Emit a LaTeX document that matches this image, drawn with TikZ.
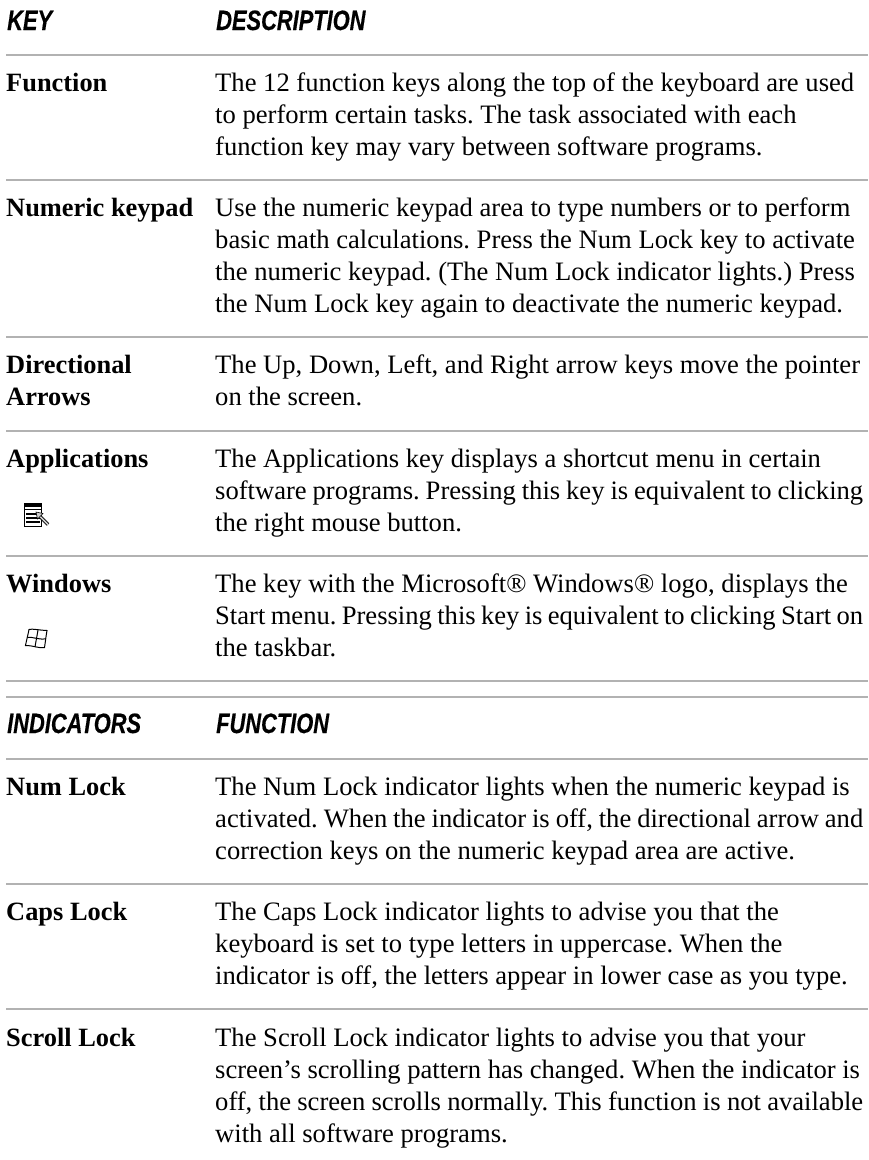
\documentclass[tikz,border=0pt]{standalone}
\usepackage{fontspec}
\setmainfont{Liberation Serif}
\newfontfamily\headfont[FakeStretch=0.78,FakeBold=0.4]{Liberation Sans}
\newcommand\fitline[1]{\makebox[648pt][s]{\spaceskip=0.25em plus 0.1em minus 0.12em\relax #1}}
\begin{document}
\frenchspacing
\begin{tikzpicture}[x=1pt,y=-1pt,
 rulestyle/.style={draw=black!30,line width=2pt},
 keylabel/.style={anchor=base west,inner sep=0pt,font=\fontsize{26.4}{31}\selectfont\bfseries},
 headlabel/.style={anchor=base west,inner sep=0pt,font=\fontsize{28}{32}\headfont\bfseries\itshape\selectfont},
 bodyline/.style={anchor=base west,inner sep=0pt,font=\fontsize{26.6}{31}\selectfont},
 iconline/.style={draw=black,line width=1pt}]
\useasboundingbox (0,0) rectangle (868,1160);
\fill[white] (0,0) rectangle (868,1160);
\foreach \y in {55,180,337,431,556,681,697,759,884,1009}
  \draw[rulestyle] (6,\y) -- (868,\y);
% header 1
\node[headlabel] (hkey) at (7,30) {KEY};
\node[headlabel] (hdesc) at (216,30) {DESCRIPTION};
% Function
\node[keylabel] (kfunc) at (6,91) {Function};
\node[bodyline] (f1) at (215,91) {The 12 function keys along the top of the keyboard are used};
\node[bodyline] (f2) at (215,123) {to perform certain tasks. The task associated with each};
\node[bodyline] (f3) at (215,155) {function key may vary between software programs.};
% Numeric
\node[keylabel] (knum) at (6,216) {Numeric keypad};
\node[bodyline] (n1) at (215,216) {Use the numeric keypad area to type numbers or to perform};
\node[bodyline] (n2) at (215,248) {basic math calculations. Press the Num Lock key to activate};
\node[bodyline] (n3) at (215,280) {the numeric keypad. (The Num Lock indicator lights.) Press};
\node[bodyline] (n4) at (215,312) {the Num Lock key again to deactivate the numeric keypad.};
% Directional
\node[keylabel] (kdir1) at (6,373) {Directional};
\node[keylabel] (kdir2) at (6,405) {Arrows};
\node[bodyline] (d1) at (215,373) {The Up, Down, Left, and Right arrow keys move the pointer};
\node[bodyline] (d2) at (215,405) {on the screen.};
% Applications
\node[keylabel] (kapp) at (6,467) {Applications};
\node[bodyline] (a1) at (215,467) {The Applications key displays a shortcut menu in certain};
\node[bodyline] (a2) at (215,499) {\fitline{software programs. Pressing this key is equivalent to clicking}};
\node[bodyline] (a3) at (215,531) {the right mouse button.};
% Windows
\node[keylabel] (kwin) at (6,592) {Windows};
\node[bodyline] (w1) at (215,592) {The key with the Microsoft® Windows® logo, displays the};
\node[bodyline] (w2) at (215,624) {\fitline{Start menu. Pressing this key is equivalent to clicking Start on}};
\node[bodyline] (w3) at (215,656) {the taskbar.};
% header 2
\node[headlabel] (hind) at (7,733) {INDICATORS};
\node[headlabel] (hfun) at (216,733) {FUNCTION};
% Num Lock
\node[keylabel] (knl) at (6,795) {Num Lock};
\node[bodyline] (l1) at (215,795) {The Num Lock indicator lights when the numeric keypad is};
\node[bodyline] (l2) at (215,827) {\fitline{activated. When the indicator is off, the directional arrow and}};
\node[bodyline] (l3) at (215,859) {correction keys on the numeric keypad area are active.};
% Caps Lock
\node[keylabel] (kcl) at (6,920) {Caps Lock};
\node[bodyline] (c1) at (215,920) {The Caps Lock indicator lights to advise you that the};
\node[bodyline] (c2) at (215,952) {keyboard is set to type letters in uppercase. When the};
\node[bodyline] (c3) at (215,984) {indicator is off, the letters appear in lower case as you type.};
% Scroll Lock
\node[keylabel] (ksl) at (6,1046) {Scroll Lock};
\node[bodyline] (s1) at (215,1046) {The Scroll Lock indicator lights to advise you that your};
\node[bodyline] (s2) at (215,1078) {screen’s scrolling pattern has changed. When the indicator is};
\node[bodyline] (s3) at (215,1110) {\fitline{off, the screen scrolls normally. This function is not available}};
\node[bodyline] (s4) at (215,1142) {with all software programs.};
% Applications icon
\draw[black,line width=1pt,fill=white] (24.5,503.5) rectangle (41.7,526.5);
\fill[black] (24,503) rectangle (42,506.8);
\fill[black] (24,508.6) rectangle (42,510.4);
\foreach \y in {513,517,521}
  \fill[black] (26,\y) rectangle (39.5,\y+1.9);
\draw[black,line width=3.4pt] (38,514.5) -- (48,524.5);
\draw[white!80!black,line width=1.7pt] (38,514.5) -- (48,524.5);
\fill[white!80!black,draw=black,line width=0.6pt] (36,512) -- (43,513.5) -- (37.5,519) -- cycle;
% Windows icon
\draw[iconline] (29,629.5) .. controls (33,628.5) and (37,630) .. (47,630.5)
  .. controls (46,636) and (45.5,641) .. (44.5,647.5)
  .. controls (38,648.5) and (34,645.5) .. (25.5,645.5)
  .. controls (26.5,640) and (28,635) .. (29,629.5) -- cycle;
\draw[iconline] (38,630) .. controls (37,636) and (36,641) .. (35,647);
\draw[iconline] (27.3,637.5) .. controls (33,636.5) and (38,640) .. (45.8,638.8);
\end{tikzpicture}
\end{document}
